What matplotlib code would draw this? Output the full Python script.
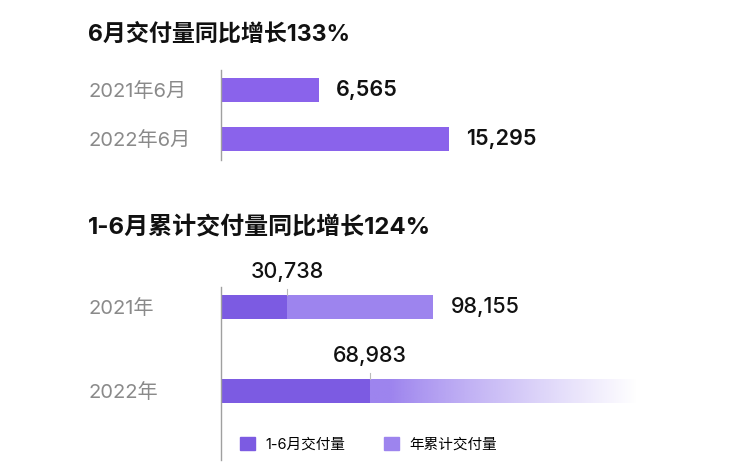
import numpy as np
import matplotlib
matplotlib.use("Agg")
import matplotlib.pyplot as plt
from matplotlib.patches import Patch
from matplotlib.colors import to_rgb

plt.rcParams['font.family'] = ['Inter', 'Noto Sans CJK SC', 'DejaVu Sans']

# data
june_labels = ["2021年6月", "2022年6月"]
june_values = [6565, 15295]

ytd_labels = ["2021年", "2022年"]
ytd_h1 = [30738, 68983]
ytd_total = [98155, None]   # 2022 full year not known yet

title_top = "6月交付量同比增长133%"
title_bottom = "1-6月累计交付量同比增长124%"
legend_labels = ["1-6月交付量", "年累计交付量"]

# styles
bar_color = "#8A63EB"
dark_color = "#7C5BE2"
light_color = "#9D84EE"
label_gray = "#8a8a8a"
axis_gray = "#a0a0a0"
W, H = 750, 473
fade_len = 124000  # length of the faded tail on the 2022 bar

fig = plt.figure(figsize=(7.5, 4.73), dpi=100)


def px_axes(x0, y0, x1, y1):
    return fig.add_axes([x0 / W, 1 - y1 / H, (x1 - x0) / W, (y1 - y0) / H])


def style(ax, labels):
    for s in ["top", "right", "bottom"]:
        ax.spines[s].set_visible(False)
    ax.spines["left"].set_color(axis_gray)
    ax.spines["left"].set_linewidth(1)
    ax.set_xticks([])
    ax.set_yticks(range(len(labels)))
    ax.set_yticklabels(labels)
    # labels left aligned at x = 88 px
    ax.tick_params(axis="y", length=0, pad=(221 - 88) * 0.72, labelsize=14.5,
                   labelcolor=label_gray)
    for t in ax.get_yticklabels():
        t.set_horizontalalignment("left")


# top chart
ax1 = px_axes(221, 70, 750, 160)
style(ax1, june_labels)
ax1.set_xlim(0, 529 / 0.01490)
ax1.set_ylim(1 + 21 / 49, -20 / 49)
ax1.barh(range(2), june_values, height=0.49, color=bar_color)
for i, v in enumerate(june_values):
    ax1.annotate(f"{v:,}", (v, i), xytext=(12.5, 0), textcoords="offset points",
                 va="center", ha="left", fontsize=15.5, fontweight="semibold", color="#111111")

fig.text(88 / W, 1 - 35 / H, title_top, fontsize=16.6, fontweight="bold",
         va="center", ha="left", color="#111111")
fig.text(88 / W, 1 - 228 / H, title_bottom, fontsize=17.3, fontweight="bold",
         va="center", ha="left", color="#111111")

# bottom chart
ax2 = px_axes(221, 287, 750, 460)
style(ax2, ytd_labels)
bh = 0.28

# year total (light) behind the H1 part
for i, t in enumerate(ytd_total):
    if t is not None:
        ax2.barh(i, t, height=bh, color=light_color)
        ax2.annotate(f"{t:,}", (t, i), xytext=(13, 0), textcoords="offset points",
                     va="center", ha="left", fontsize=15.5, fontweight="medium", color="#111111")

# 2022: faded tail instead of a total
i = 1
start = ytd_h1[i]
n = 256
alpha = np.clip(1.15 - np.linspace(0, 1, n) ** 0.8 * 1.15, 0, 1)
grad = np.zeros((1, n, 4))
grad[..., :3] = to_rgb(light_color)
grad[..., 3] = alpha
ax2.imshow(grad, extent=[start, start + fade_len, i + bh / 2, i - bh / 2],
           aspect="auto", interpolation="bilinear", zorder=1)
ax2.set_xlim(0, 529 / 0.002155)
ax2.set_ylim(1 + 69 / 84, -20 / 84)

ax2.barh(range(2), ytd_h1, height=bh, color=dark_color, zorder=2)
for i, v in enumerate(ytd_h1):
    ax2.plot([v, v], [i - bh / 2, i - bh / 2 - 0.07], color="#bbbbbb", lw=0.8,
             clip_on=False, zorder=3)
    ax2.annotate(f"{v:,}", (v, i), xytext=(0, 25), textcoords="offset points",
                 va="center", ha="center", fontsize=15.5, fontweight="medium", color="#111111")

handles = [Patch(color=dark_color), Patch(color=light_color)]
fig.legend(handles, legend_labels, loc="center left",
           bbox_to_anchor=(240 / W, 1 - 444 / H), ncol=2, frameon=False,
           fontsize=10.5, handlelength=1.03, handleheight=1.03, handletextpad=0.68,
           columnspacing=2.7, borderaxespad=0, borderpad=0)

fig.savefig("out.png", dpi=100, facecolor="white")
